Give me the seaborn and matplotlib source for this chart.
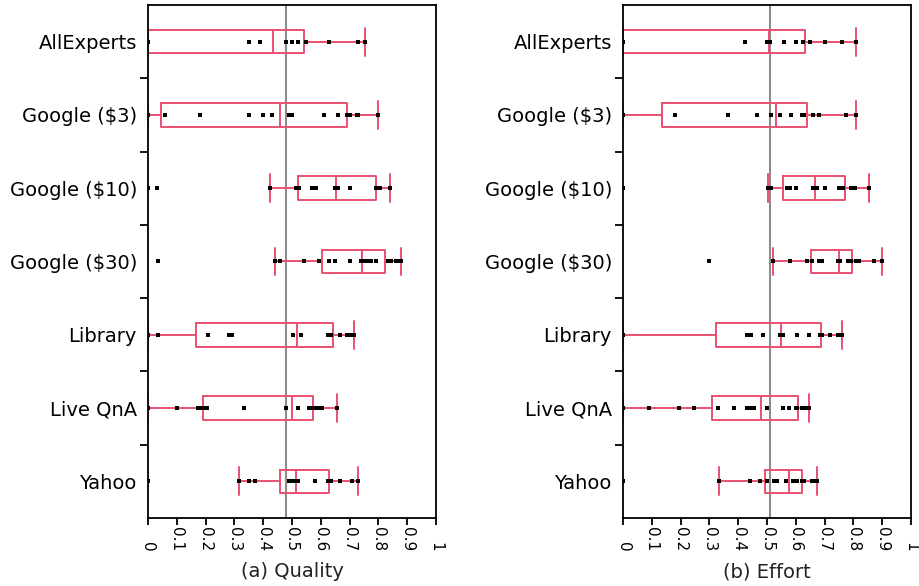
import numpy as np
import pandas as pd
import seaborn as sns
import matplotlib.pyplot as plt

sns.set_style('ticks')
plt.rcParams['text.color'] = 'black'
plt.rcParams['xtick.color'] = 'black'
plt.rcParams['ytick.color'] = 'black'
plt.rcParams['axes.labelcolor'] = 'black'

groups = ['AllExperts', 'Google ($3)', 'Google ($10)', 'Google ($30)',
          'Library', 'Live QnA', 'Yahoo']

# Quality scores per source
q_allexperts = [0, 0, 0, 0, 0, 0.35, 0.39, 0.48, 0.50, 0.52, 0.55, 0.63, 0.73, 0.755]
q_google3 = [0, 0, 0, 0, 0, 0.06, 0.18, 0.35, 0.40, 0.43, 0.49, 0.50, 0.61, 0.66,
             0.69, 0.70, 0.70, 0.725, 0.73, 0.80]
q_google10 = [0, 0.03, 0.425, 0.515, 0.525, 0.57, 0.585, 0.65, 0.655, 0.66, 0.70,
              0.79, 0.795, 0.80, 0.805, 0.84]
q_google30 = [0.035, 0.44, 0.46, 0.54, 0.595, 0.63, 0.65, 0.70, 0.74, 0.745, 0.76,
              0.775, 0.79, 0.835, 0.845, 0.86, 0.87, 0.88]
q_library = [0, 0, 0, 0.035, 0.21, 0.28, 0.29, 0.505, 0.53, 0.625, 0.63, 0.635,
             0.665, 0.69, 0.70, 0.715]
q_liveqna = [0, 0.10, 0.175, 0.18, 0.195, 0.205, 0.335, 0.48, 0.52, 0.56, 0.565,
             0.57, 0.585, 0.59, 0.605, 0.655]
q_yahoo = [0, 0.315, 0.35, 0.37, 0.49, 0.50, 0.51, 0.51, 0.515, 0.52, 0.58, 0.625,
           0.635, 0.665, 0.71, 0.73]

# Effort scores per source
e_allexperts = [0, 0, 0, 0, 0, 0.425, 0.50, 0.505, 0.51, 0.56, 0.60, 0.625, 0.65,
                0.70, 0.76, 0.81]
e_google3 = [0, 0, 0, 0, 0.18, 0.365, 0.465, 0.515, 0.545, 0.585, 0.62, 0.63, 0.66,
             0.68, 0.775, 0.81]
e_google10 = [0, 0.505, 0.51, 0.515, 0.57, 0.58, 0.60, 0.66, 0.675, 0.70, 0.75,
              0.765, 0.79, 0.80, 0.805, 0.855]
e_google30 = [0.30, 0.52, 0.58, 0.64, 0.655, 0.68, 0.69, 0.745, 0.755, 0.78, 0.785,
              0.79, 0.81, 0.82, 0.87, 0.90]
e_library = [0, 0, 0, 0, 0.43, 0.445, 0.485, 0.545, 0.555, 0.605, 0.645, 0.685,
             0.69, 0.72, 0.745, 0.76]
e_liveqna = [0, 0, 0.09, 0.195, 0.245, 0.33, 0.385, 0.43, 0.445, 0.455, 0.50, 0.555,
             0.575, 0.60, 0.605, 0.62, 0.625, 0.63, 0.64, 0.645]
e_yahoo = [0, 0.335, 0.44, 0.475, 0.50, 0.525, 0.535, 0.565, 0.59, 0.59, 0.605,
           0.62, 0.63, 0.655, 0.665, 0.675]

# Reference lines (overall level)
quality_ref = 0.48
effort_ref = 0.51

xticks = [0, 0.1, 0.2, 0.3, 0.4, 0.5, 0.6, 0.7, 0.8, 0.9, 1]
xtick_labels = ['0', '0.1', '0.2', '0.3', '0.4', '0.5', '0.6', '0.7', '0.8', '0.9', '1']


def to_frame(lists):
    rows = []
    for name, vals in zip(groups, lists):
        rows += [(name, v) for v in vals]
    return pd.DataFrame(rows, columns=['Source', 'Score'])


quality = to_frame([q_allexperts, q_google3, q_google10, q_google30,
                    q_library, q_liveqna, q_yahoo])
effort = to_frame([e_allexperts, e_google3, e_google10, e_google30,
                   e_library, e_liveqna, e_yahoo])

box_color = '#e8506e'

fig = plt.figure(figsize=(9.19, 5.86), dpi=100)
ax1 = fig.add_axes([148 / 919, 68 / 586, 288 / 919, 513 / 586])
ax2 = fig.add_axes([623 / 919, 68 / 586, 288 / 919, 513 / 586])

for ax, df, ref, label in [(ax1, quality, quality_ref, '(a) Quality'),
                           (ax2, effort, effort_ref, '(b) Effort')]:
    ax.axvline(ref, color='#8c8c8c', lw=1.5, zorder=0)
    sns.boxplot(data=df, x='Score', y='Source', order=groups, orient='h',
                width=0.32, fill=False, color=box_color, linewidth=1.4,
                showfliers=False, whis=1.5, capwidths=0.38, ax=ax)
    sns.stripplot(data=df, x='Score', y='Source', order=groups, orient='h',
                  jitter=False, marker='s', size=3.3, color='black',
                  linewidth=0, zorder=3, ax=ax)

    ax.set_xlim(0, 1)
    ax.set_ylim(6.5, -0.5)
    ax.set_xticks(xticks)
    ax.set_xticklabels(xtick_labels)
    ax.tick_params(axis='x', length=5, width=1.3, pad=19, labelsize=11,
                   labelrotation=270)
    for t in ax.get_xticklabels():
        t.set_va('bottom')
    ax.tick_params(axis='y', which='major', length=0, labelsize=14, pad=8)
    ax.set_yticks(np.arange(0.5, 6, 1), minor=True)
    ax.tick_params(axis='y', which='minor', length=6, width=1.3)
    ax.set_ylabel('')
    ax.set_xlabel(label, fontsize=14, color='#222222', labelpad=8)
    for s in ax.spines.values():
        s.set_linewidth(1.3)
        s.set_color('black')

fig.savefig('out.png', dpi=100)
